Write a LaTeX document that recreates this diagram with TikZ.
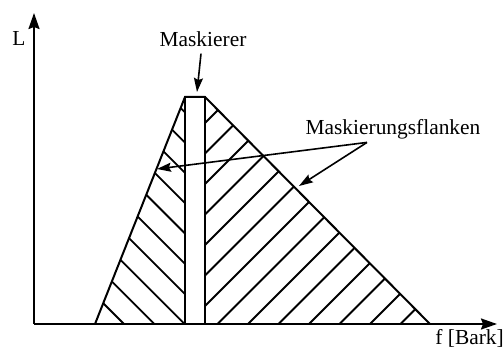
\documentclass[tikz,border=0pt]{standalone}
\usepackage{fontspec}
\setmainfont{Liberation Serif}
\usetikzlibrary{arrows.meta}

\begin{document}
\begin{tikzpicture}[x=0.5pt,y=-0.5pt,
    axis/.style={line width=1pt,-{Stealth[length=8pt,width=5.5pt,inset=1pt]}},
    edge/.style={line width=1pt},
    hatch/.style={line width=0.9pt},
    pointer/.style={line width=0.8pt,-{Stealth[length=7pt,width=4.5pt,inset=1pt]}},
    lbl/.style={inner sep=0pt,font=\fontsize{10.7}{12}\selectfont}]
  \useasboundingbox (0,0) rectangle (504,347);
  \coordinate (origin) at (34,324);
  \coordinate (ytop) at (34,13);
  \coordinate (xend) at (497,324);
  \coordinate (baseL) at (95,324);
  \coordinate (topL) at (185,97);
  \coordinate (topR) at (205,97);
  \coordinate (baseR) at (430,324);
  \coordinate (footL) at (185,324);
  \coordinate (footR) at (205,324);
  \begin{scope}
    \clip (baseL) -- (topL) -- (footL) -- cycle;
    \foreach \k in {0,...,10}
      \draw[hatch] ({124+30.3*\k-300},24) -- ++(300,300);
  \end{scope}
  \begin{scope}
    \clip (topR) -- (baseR) -- (footR) -- cycle;
    \foreach \k in {0,...,14}
      \draw[hatch] (-95,{123+30.5*\k+300}) -- ++(600,-600);
  \end{scope}
  \draw[edge] (baseL) -- (topL) -- (topR) -- (baseR);
  \draw[edge] (topL) rectangle (footR);
  \draw[axis] (origin) -- (ytop);
  \draw[axis] (origin) -- (xend);
  \node[lbl,anchor=base] (ylabel) at (19,46) {L};
  \node[lbl,anchor=base] (masker) at (203,47) {Maskierer};
  \node[lbl,anchor=base] (flanks) at (393,135) {Maskierungsflanken};
  \node[lbl,anchor=base west] (xlabel) at (435,345) {f [Bark]};
  \coordinate (mtip) at (197,92);
  \coordinate (fork) at ([xshift=-13pt,yshift=-1.2pt]flanks.south);
  \coordinate (tipL) at (157,169);
  \coordinate (tipR) at (299,186);
  \draw[pointer] ([xshift=-1pt,yshift=-3pt]masker.south) -- (mtip);
  \draw[pointer] (fork) -- (tipL);
  \draw[pointer] (fork) -- (tipR);
\end{tikzpicture}
\end{document}
